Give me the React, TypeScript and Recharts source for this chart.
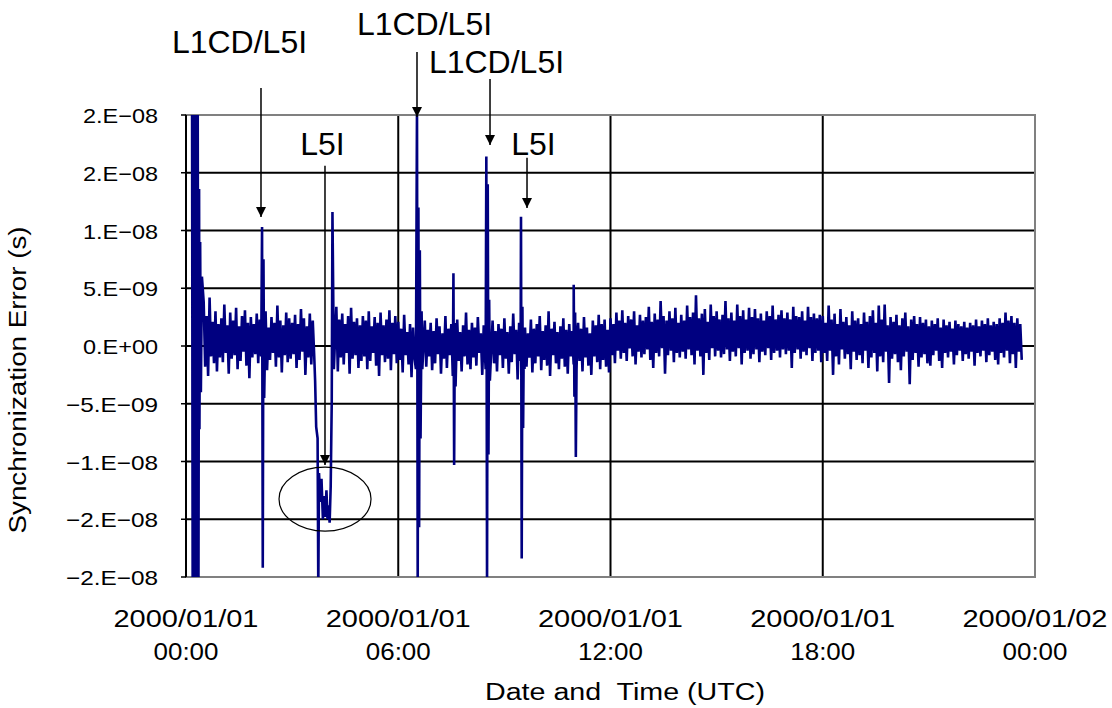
import {
  LineChart,
  Line,
  XAxis,
  YAxis,
  CartesianGrid,
  ReferenceLine,
  ReferenceDot,
  ReferenceArea,
} from "recharts";

// axis ticks (x in hours from 2000/01/01 00:00, y in ns)
const hourTicks = [0, 6, 12, 18, 24];
const dateLabels = ["2000/01/01", "2000/01/01", "2000/01/01", "2000/01/01", "2000/01/02"];
const timeLabels = ["00:00", "06:00", "12:00", "18:00", "00:00"];
const errorTicks = [-20, -15, -10, -5, 0, 5, 10, 15, 20];
const errorTickLabels = ["−2.E−08", "−2.E−08", "−1.E−08", "−5.E−09", "0.E+00", "5.E−09", "1.E−08", "2.E−08", "2.E−08"];
const gridHours = [6, 12, 18];
const gridErrors = [-15, -10, -5, 0, 5, 10, 15];

// per 5-minute slot: high then low reading (ns); null = slot covered by the events below
const high00to06 = [
  null, null, null, null, null, null, 3.8, 2.6, 4.2, 2.1, 3.0, 1.9,
  2.4, 3.6, 1.8, 2.9, 2.2, 3.3, 1.7, 2.6, 3.1, 2.0, 2.5, 1.9,
  2.8, 2.3, null, 3.0, 1.6, 2.5, 2.0, 3.5, 2.2, 1.8, 2.9, 2.4,
  2.0, 2.7, 1.9, 3.2, 2.4, 1.7, 2.8, 2.2, null, null, null, null,
  null, null, null, 3.4, 2.3, 2.8, 1.9, 2.6, 3.3, 2.1, 2.4, 1.8,
  2.6, 2.2, 3.0, 1.7, 2.5, 2.0, 2.9, 1.8, 2.3, 3.1, 2.0, 2.6,
];
const low00to06 = [
  null, null, null, null, null, null, -1.8, -2.6, -0.9, -1.5, -2.2, -1.0,
  -1.4, -0.6, -2.4, -1.1, -0.8, -2.0, -1.3, -0.5, -1.7, -2.8, -1.0, -0.7,
  -1.5, -0.9, null, -2.1, -1.2, -0.6, -1.8, -1.0, -2.3, -0.8, -1.4, -1.1,
  -0.7, -1.9, -1.2, -0.5, -2.5, -1.0, -1.6, -0.9, null, null, null, null,
  null, null, null, -2.2, -1.0, -1.6, -0.6, -2.4, -1.1, -0.8, -1.9, -1.3,
  -0.9, -2.0, -1.3, -0.6, -1.7, -2.6, -0.8, -1.4, -1.1, -2.1, -0.7, -1.5,
];
const high06to12 = [
  2.1, 1.5, 2.7, 1.2, 1.9, 1.6, null, null, null, 2.2, 1.4, 2.0,
  1.3, 2.4, 1.7, 1.1, 2.6, 1.5, 1.9, null, 2.3, 1.2, 1.8, 2.9,
  1.4, 2.0, 1.6, 2.5, 1.1, 1.8, null, null, 2.2, 1.3, 1.9, 1.5,
  2.4, 1.2, 1.7, 2.8, 1.4, 2.0, null, 1.6, 1.1, 2.3, 1.5, 1.9,
  2.6, 1.3, 1.8, 3.0, 1.5, 2.1, 1.2, 1.7, 2.4, 1.4, 1.9, 1.3,
  null, 2.0, 1.5, 2.5, 1.6, 1.1, 2.2, 1.8, 2.7, 1.9, 2.3, 1.4,
];
const low06to12 = [
  -1.2, -2.3, -0.8, -1.6, -2.7, -1.0, null, null, null, -1.8, -0.9, -2.1,
  -1.5, -0.7, -2.4, -1.1, -1.9, -0.8, -2.6, null, -1.3, -2.2, -0.9, -1.6,
  -2.0, -1.0, -1.7, -0.6, -2.5, -1.2, null, null, -1.5, -2.2, -0.8, -1.9,
  -1.1, -2.4, -1.4, -0.7, -2.9, -1.3, null, -1.8, -1.0, -2.3, -1.5, -0.9,
  -2.1, -1.2, -1.7, -2.6, -0.8, -1.5, -2.0, -1.1, -1.8, -2.4, -0.9, -1.6,
  null, -1.3, -2.2, -1.0, -1.7, -2.5, -0.9, -1.4, -2.0, -1.2, -1.8, -2.3,
];
const high12to18 = [
  2.4, 1.9, 2.9, 2.2, 3.1, 2.0, 2.6, 2.3, 3.0, 1.8, 2.7, 2.2,
  2.5, 3.4, 2.1, 2.8, 2.3, 3.9, 2.6, 2.2, 3.0, 2.4, 3.3, 2.0,
  2.7, 2.2, 3.5, 2.5, 2.9, 4.4, 2.4, 2.8, 3.2, 2.1, 3.6, 2.6,
  3.0, 2.3, 2.7, 3.9, 2.4, 2.9, 2.2, 3.6, 2.6, 3.1, 2.3, 3.3,
  2.5, 3.2, 2.4, 2.8, 2.2, 3.0, 2.6, 3.5, 2.3, 2.7, 3.1, 2.4,
  2.9, 2.3, 3.4, 2.6, 2.5, 3.0, 2.2, 3.4, 2.5, 2.8, 2.4, 2.7,
];
const low12to18 = [
  -0.8, -1.5, -0.4, -1.1, -0.6, -1.3, -0.2, -0.9, -1.6, -0.5, -1.0, -0.7,
  -0.3, -1.2, -1.9, -0.6, -0.9, -0.2, -2.4, -0.8, -0.4, -1.4, -0.6, -1.0,
  -0.5, -1.1, -0.3, -0.8, -1.6, -0.4, -0.9, -2.5, -0.6, -1.2, -0.2, -0.9,
  -0.4, -1.0, -0.7, -0.3, -1.3, -0.5, -0.9, -0.2, -1.6, -0.6, -0.4, -1.1,
  -0.7, -0.3, -1.4, -0.5, -0.8, -0.2, -1.2, -0.6, -0.4, -1.0, -0.3, -0.7,
  -0.4, -1.9, -0.6, -0.3, -1.1, -0.5, -0.8, -0.2, -1.3, -0.6, -0.4, -1.4,
];
const high18to24 = [
  2.6, 2.0, 3.5, 2.3, 2.8, 1.9, 3.2, 2.1, 2.5, 1.8, 3.0, 2.2,
  2.4, 1.9, 2.9, 2.1, 2.6, 3.1, 2.0, 3.5, 2.3, 3.6, 1.8, 2.5,
  2.1, 2.7, 1.8, 2.4, 2.9, 1.7, 2.3, 2.6, 1.9, 2.5, 2.0, 2.3,
  1.7, 2.2, 1.9, 2.4, 1.6, 2.3, 1.8, 2.1, 1.5, 2.2, 1.9, 1.7,
  2.1, 1.6, 2.0, 1.8, 2.3, 1.7, 2.2, 1.9, 2.4, 1.8, 2.1, 1.9,
  2.4, 2.0, 2.9, 2.2, 2.6, 2.0, 2.4, 1.9,
];
const low18to24 = [
  -0.6, -1.3, -0.4, -2.5, -0.9, -1.6, -0.3, -1.1, -0.7, -2.0, -0.5, -1.2,
  -0.8, -1.5, -0.4, -1.9, -1.0, -0.6, -2.2, -0.9, -1.4, -0.5, -3.2, -1.1,
  -0.7, -1.4, -2.1, -0.9, -0.5, -3.3, -1.2, -0.6, -1.8, -1.0, -0.7, -1.5,
  -1.7, -0.8, -0.4, -1.3, -1.9, -0.6, -1.0, -0.5, -1.6, -0.8, -0.4, -1.3,
  -0.7, -1.1, -0.5, -1.7, -0.6, -0.9, -0.4, -1.4, -0.8, -0.5, -1.2, -1.6,
  -0.6, -1.0, -0.4, -1.5, -0.7, -1.9, -0.5, -1.2,
];

// disturbances (hour, ns)
const eventHours = [
  0.17, 0.19, 0.21, 0.23, 0.25, 0.27, 0.29, 0.31, 0.33, 0.35, 0.37, 0.38, 0.4, 0.42, 0.45,
  2.15, 2.17, 2.19, 2.21,
  3.65, 3.68, 3.72, 3.74, 3.76, 3.8, 3.83, 3.87, 3.9, 3.94, 3.97, 4.0, 4.03, 4.06, 4.09, 4.12, 4.14, 4.16, 4.18,
  6.5, 6.53, 6.55, 6.57, 6.59, 6.61, 6.63, 6.66, 6.68,
  7.56, 7.58, 7.6, 7.62,
  8.47, 8.49, 8.51, 8.53, 8.55, 8.57, 8.59,
  9.47, 9.49, 9.51, 9.53, 9.55, 9.57,
  10.96, 10.98, 11.0, 11.02, 11.04, 11.07,
];
const eventValues = [
  25, -25, 25, -25, 25, -25, 25, -25, 25, -25, 13.6, -7.2, 9, -4, 6,
  10.3, -19.2, 7.5, -4.5,
  -3, -7, -8, -21, -11, -13.5, -11.5, -15, -13, -14.8, -12.5, -15, -13.8, -15.3, -12.2, -4.8, 11.6, 5, -2,
  -2, 21, -21, 12, -15.7, 8.3, -8, 3, -2,
  6.3, -10.3, 2, -3.5,
  -2, 16.4, -21, 14, -9.4, 4, -3,
  11.2, -18.4, 3.4, -7.1, 1, -2,
  5.3, -4.4, 2.9, -9.6, -2, 1.5,
];

// annotations
const noteTexts = ["L1CD/L5I", "L5I", "L1CD/L5I", "L1CD/L5I", "L5I"];
const noteHours = [1.512, 3.859, 6.742, 8.777, 9.823];
const noteValues = [25.37, 16.54, 26.93, 23.64, 16.54];
const arrowHours = [2.12, 3.929, 6.53, 8.594, 9.64];
const arrowFrom = [22.34, 15.6, 25.45, 23.12, 16.3];
const arrowTo = [11.17, -10.3, 19.83, 17.4, 11.95];
const circleHour = 3.93;
const circleValue = -13.25;

const FONT = "'Liberation Sans', Arial, sans-serif";
const NAVY = "#000080";

const blocks: [number, (number | null)[], (number | null)[]][] = [
  [0, high00to06, low00to06],
  [6, high06to12, low06to12],
  [12, high12to18, low12to18],
  [18, high18to24, low18to24],
];
const rows: { hour: number; err: number }[] = [];
blocks.forEach(([start, hi, lo]) =>
  hi.forEach((v, i) => {
    const t = start + i / 12;
    if (v !== null) rows.push({ hour: t, err: v });
    const w = lo[i];
    if (w !== null) rows.push({ hour: t + 1 / 24, err: w });
  })
);
eventHours.forEach((h, i) => rows.push({ hour: h, err: eventValues[i] }));
rows.sort((a, b) => a.hour - b.hour);

const XTick = (props: any) => {
  const { x, y, payload } = props;
  const i = hourTicks.indexOf(payload.value);
  return (
    <g>
      <text x={x} y={y + 50} textAnchor="middle" fontSize={23} fontFamily={FONT} fill="#000" textLength={145} lengthAdjust="spacingAndGlyphs">
        {dateLabels[i]}
      </text>
      <text x={x} y={y + 83} textAnchor="middle" fontSize={23} fontFamily={FONT} fill="#000" textLength={65} lengthAdjust="spacingAndGlyphs">
        {timeLabels[i]}
      </text>
    </g>
  );
};

const YTick = (props: any) => {
  const { x, y, payload } = props;
  const label = errorTickLabels[errorTicks.indexOf(payload.value)];
  return (
    <text x={x - 23} y={y + 8} textAnchor="end" fontSize={21} fontFamily={FONT} fill="#000" textLength={label.startsWith("−") ? 92 : 75} lengthAdjust="spacingAndGlyphs">
      {label}
    </text>
  );
};

const YTitle = (props: any) => {
  const { viewBox } = props;
  const cx = viewBox.x + 26;
  const cy = viewBox.y + 265;
  return (
    <text x={cx} y={cy} transform={`rotate(-90 ${cx} ${cy})`} textAnchor="middle" fontSize={23} fontFamily={FONT} fill="#000" textLength={307} lengthAdjust="spacingAndGlyphs">
      Synchronization Error (s)
    </text>
  );
};

const XTitle = (props: any) => {
  const { viewBox } = props;
  return (
    <text x={viewBox.x + 439} y={viewBox.y + 123} textAnchor="middle" fontSize={23} fontFamily={FONT} fill="#000" textLength={280} lengthAdjust="spacingAndGlyphs" style={{ whiteSpace: "pre" }}>
      {"Date and  Time (UTC)"}
    </text>
  );
};

const Arrowhead = (props: any) => {
  const { cx, cy } = props;
  return <path d={`M${cx - 5},${cy - 10} L${cx + 5},${cy - 10} L${cx},${cy} Z`} fill="#000" />;
};

const Ellipse = (props: any) => {
  const { cx, cy } = props;
  return <ellipse cx={cx} cy={cy} rx={46} ry={32} fill="none" stroke="#000" strokeWidth={1.2} />;
};

const noteShape = (text: string) => (props: any) => (
  <text x={props.cx} y={props.cy} textAnchor="middle" fontSize={32} fontFamily={FONT} fill="#000">
    {text}
  </text>
);

export default function App() {
  return (
    <div style={{ position: "absolute", left: 0, top: 0, width: 1112, height: 708 }}>
      <LineChart width={1112} height={708} data={rows} margin={{ top: 115, right: 77, bottom: 0, left: 0 }}>
        <CartesianGrid horizontalValues={gridErrors} verticalValues={gridHours} stroke="#000" strokeWidth={2} />
        <ReferenceArea x1={0} x2={24} y1={-20} y2={20} fill="none" stroke="#808080" strokeWidth={2} />
        <XAxis
          type="number"
          dataKey="hour"
          domain={[0, 24]}
          ticks={hourTicks}
          interval={0}
          height={131}
          axisLine={false}
          tickLine={false}
          tickSize={0}
          tickMargin={0}
          tick={<XTick />}
          label={<XTitle />}
        />
        <YAxis
          type="number"
          domain={[-20, 20]}
          ticks={errorTicks}
          interval={0}
          allowDataOverflow
          width={186}
          axisLine={{ stroke: "#000", strokeWidth: 2 }}
          tickLine={{ stroke: "#000", strokeWidth: 1.5 }}
          tickSize={5}
          tickMargin={0}
          tick={<YTick />}
          label={<YTitle />}
        />
        <Line
          type="linear"
          dataKey="err"
          stroke={NAVY}
          strokeWidth={2.6}
          dot={false}
          activeDot={false}
          isAnimationActive={false}
        />
        {arrowHours.map((h, i) => (
          <ReferenceLine
            key={`shaft-${i}`}
            segment={[{ x: h, y: arrowFrom[i] }, { x: h, y: arrowTo[i] }]}
            stroke="#000"
            strokeWidth={1.5}
            ifOverflow="visible"
          />
        ))}
        {arrowHours.map((h, i) => (
          <ReferenceDot key={`head-${i}`} x={h} y={arrowTo[i]} r={0} shape={<Arrowhead />} ifOverflow="visible" />
        ))}
        {noteTexts.map((t, i) => (
          <ReferenceDot key={`note-${i}`} x={noteHours[i]} y={noteValues[i]} r={0} shape={noteShape(t)} ifOverflow="visible" />
        ))}
        <ReferenceDot x={circleHour} y={circleValue} r={0} shape={<Ellipse />} ifOverflow="visible" />
      </LineChart>
    </div>
  );
}
